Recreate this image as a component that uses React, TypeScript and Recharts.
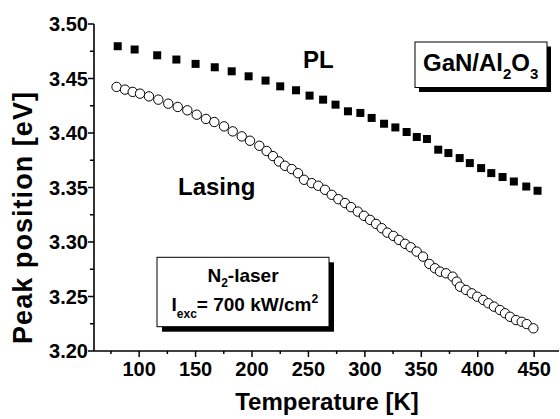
import { Scatter, ScatterChart, XAxis, YAxis } from 'recharts';

// temperature [K] / peak position [eV]
const PL_T = [81, 96, 116, 133, 150, 167, 182, 197, 212, 225, 239, 251, 263, 274, 285, 296, 306, 317, 327, 337, 346, 355, 365, 374, 384, 393, 403, 412, 422, 432, 443, 453];
const PL_E = [3.4796, 3.4766, 3.4713, 3.4674, 3.4634, 3.4603, 3.4566, 3.452, 3.4481, 3.4428, 3.4392, 3.4343, 3.4306, 3.426, 3.4199, 3.4184, 3.4138, 3.4085, 3.4051, 3.4009, 3.3963, 3.3945, 3.3847, 3.3816, 3.377, 3.3724, 3.3678, 3.3632, 3.3596, 3.3555, 3.3509, 3.347];

const LAS_T = [80, 87.5, 94.3, 100.8, 108.7, 117, 125.8, 134.2, 142.7, 151, 159.2, 166.6, 175.2, 182.9, 190.9, 198.2, 206.5, 213, 218.6, 223.9, 229.2, 235.2, 240.8, 246.1, 252.9, 258.7, 264.7, 270.6, 276.5, 282.4, 287.7, 293.7, 299.2, 304.6, 309.9, 314.9, 319.9, 325.2, 330.2, 335.6, 340.6, 345.9, 351.5, 357.1, 362.1, 366.6, 371.9, 377.8, 381.4, 384.3, 389.6, 394.7, 399.6, 404.9, 409.4, 414.4, 419.7, 424.2, 428.6, 433.9, 439, 443.4, 449.3];
const LAS_E = [3.4423, 3.4398, 3.4377, 3.4361, 3.4336, 3.4306, 3.4269, 3.4239, 3.4208, 3.4168, 3.4129, 3.4101, 3.4061, 3.4015, 3.3969, 3.3929, 3.3883, 3.3835, 3.3788, 3.3739, 3.3699, 3.3669, 3.3631, 3.3571, 3.354, 3.3516, 3.3479, 3.3433, 3.3393, 3.3357, 3.332, 3.3279, 3.324, 3.3203, 3.3166, 3.3127, 3.3086, 3.3056, 3.3019, 3.2983, 3.2952, 3.2912, 3.2866, 3.2799, 3.2759, 3.2728, 3.2713, 3.2682, 3.2636, 3.259, 3.256, 3.2529, 3.2498, 3.2468, 3.2438, 3.2407, 3.2376, 3.2346, 3.2314, 3.2284, 3.2268, 3.2247, 3.2208];

const X_TICKS = [75, 100, 125, 150, 175, 200, 225, 250, 275, 300, 325, 350, 375, 400, 425, 450];
const Y_TICKS = [3.2, 3.225, 3.25, 3.275, 3.3, 3.325, 3.35, 3.375, 3.4, 3.425, 3.45, 3.475, 3.5];

const pl = PL_T.map((t, i) => ({ t, e: PL_E[i] }));
const lasing = LAS_T.map((t, i) => ({ t, e: LAS_E[i] }));

const FONT = '"Liberation Sans", Arial, sans-serif';
const isMajorX = (v: number) => v % 50 === 0;
const isMajorY = (v: number) => Math.round(v * 1000) % 50 === 0;

function BottomTick({ x, y, payload }: any) {
  const major = isMajorX(payload.value);
  return (
    <g>
      <line x1={x} x2={x} y1={y} y2={y + (major ? 6 : 3)} stroke="#000" strokeWidth={1.5} />
      {major && (
        <text x={x} y={y + 25} textAnchor="middle" fontSize={20} fontWeight="bold" fontFamily={FONT} fill="#000">
          {payload.value}
        </text>
      )}
    </g>
  );
}

function TopTick({ x, y, payload }: any) {
  const major = isMajorX(payload.value);
  return <line x1={x} x2={x} y1={y} y2={y + (major ? 6 : 4)} stroke="#000" strokeWidth={1.5} />;
}

function LeftTick({ x, y, payload }: any) {
  const major = isMajorY(payload.value);
  return (
    <g>
      <line x1={x} x2={x - (major ? 6 : 4)} y1={y} y2={y} stroke="#000" strokeWidth={1.5} />
      {major && (
        <text x={x - 6} y={y} dy="0.36em" textAnchor="end" fontSize={20} fontWeight="bold" fontFamily={FONT} fill="#000">
          {payload.value.toFixed(2)}
        </text>
      )}
    </g>
  );
}

function RightTick({ x, y, payload }: any) {
  const major = isMajorY(payload.value);
  return <line x1={x} x2={x - (major ? 7 : 3)} y1={y} y2={y} stroke="#000" strokeWidth={1.5} />;
}

const Square = ({ cx, cy }: any) => <rect x={cx - 4} y={cy - 4} width={8} height={8} fill="#000" />;
const Ring = ({ cx, cy }: any) => <circle cx={cx} cy={cy} r={4.7} fill="#fff" stroke="#000" strokeWidth={1} />;

const axisLine = { stroke: '#000', strokeWidth: 1.6 };

export default function App() {
  return (
    <div style={{ position: 'absolute', left: 0, top: 0, width: 560, height: 419, background: '#fff' }}>
      <ScatterChart width={560} height={419} margin={{ top: 24, right: 1, bottom: 0, left: 0 }}>
        <XAxis xAxisId="b" type="number" dataKey="t" domain={[60, 472]} ticks={X_TICKS} interval={0} height={68}
          tickSize={0} tickMargin={0} tickLine={false} tick={<BottomTick />} axisLine={axisLine} allowDataOverflow />
        <XAxis xAxisId="t" orientation="top" type="number" dataKey="t" domain={[60, 472]} ticks={X_TICKS} interval={0} height={0}
          tickSize={0} tickMargin={0} tickLine={false} tick={<TopTick />} axisLine={axisLine} allowDataOverflow />
        <YAxis yAxisId="l" type="number" dataKey="e" domain={[3.2, 3.5]} ticks={Y_TICKS} interval={0} width={94}
          tickSize={0} tickMargin={0} tickLine={false} tick={<LeftTick />} axisLine={axisLine} allowDataOverflow />
        <YAxis yAxisId="r" orientation="right" type="number" dataKey="e" domain={[3.2, 3.5]} ticks={Y_TICKS} interval={0} width={0}
          tickSize={0} tickMargin={0} tickLine={false} tick={<RightTick />} axisLine={axisLine} allowDataOverflow />
        <Scatter xAxisId="b" yAxisId="l" data={pl} shape={Square} isAnimationActive={false} />
        <Scatter xAxisId="b" yAxisId="l" data={lasing} shape={Ring} isAnimationActive={false} />
      </ScatterChart>

      <svg width={560} height={419} style={{ position: 'absolute', left: 0, top: 0, pointerEvents: 'none' }}
        fontFamily={FONT} fontWeight="bold" fill="#000">
        <text x={327} y={410} textAnchor="middle" fontSize={24}>Temperature [K]</text>
        <text transform="translate(32,218) rotate(-90)" textAnchor="middle" fontSize={27} textLength={252} lengthAdjust="spacing">
          Peak position [eV]
        </text>

        <text x={303} y={68} fontSize={24}>PL</text>
        <text x={178} y={195} fontSize={24}>Lasing</text>

        <rect x={419} y={46.5} width={132} height={45.5} fill="#000" />
        <rect x={415} y={42} width={132} height={45.5} fill="#fff" stroke="#000" strokeWidth={1} />
        <text x={423} y={71} fontSize={24}>
          GaN/Al<tspan fontSize={15} dy={8}>2</tspan><tspan dy={-8}>O</tspan><tspan fontSize={15} dy={8}>3</tspan>
        </text>

        <rect x={162} y={262.3} width={172} height={69.4} fill="#000" />
        <rect x={157} y={257.3} width={172} height={69.4} fill="#fff" stroke="#000" strokeWidth={1} />
        <text x={243} y={281.7} textAnchor="middle" fontSize={19}>
          N<tspan fontSize={12} dy={5}>2</tspan><tspan dy={-5}>-laser</tspan>
        </text>
        <text x={171.5} y={310.7} fontSize={19}>
          I<tspan fontSize={12} dy={7}>exc</tspan><tspan dy={-7}>= 700 kW/cm</tspan><tspan fontSize={12} dy={-8}>2</tspan>
        </text>
      </svg>
    </div>
  );
}
